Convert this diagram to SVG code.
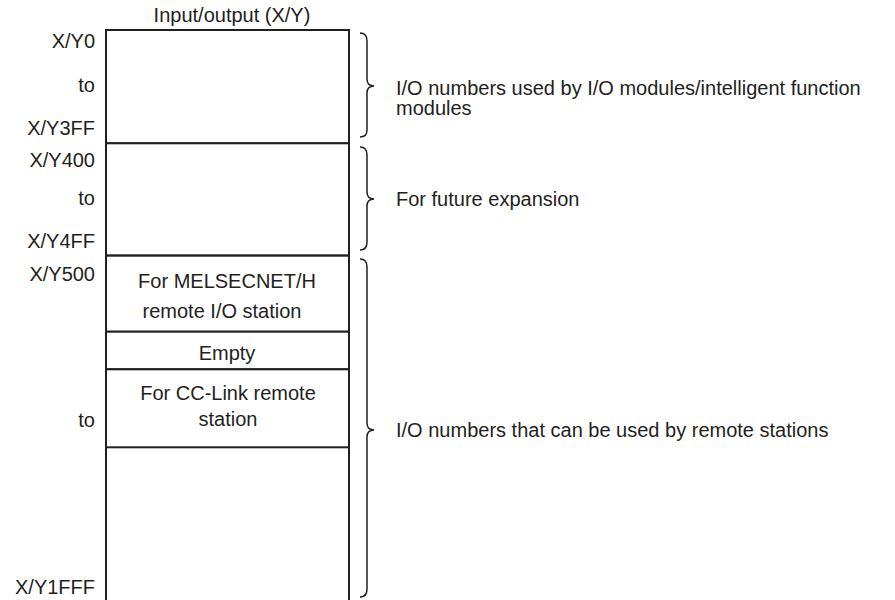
<svg xmlns="http://www.w3.org/2000/svg" width="895" height="600" viewBox="0 0 895 600">
<style>
  text { font-family: "Liberation Sans", Arial, sans-serif; font-size: 20px; fill: #231f20; }
  .r { text-anchor: end; }
  .m { text-anchor: middle; }
  .box { fill: #fff; stroke: #231f20; stroke-width: 2; }
  .brace { fill: none; stroke: #231f20; stroke-width: 1.5; }
</style>
<rect width="895" height="600" fill="#fff"/>
<text class="m" x="232" y="22">Input/output (X/Y)</text>

<g id="seg-io">
  <rect class="box" x="106" y="30" width="243" height="113.3"/>
  <text class="r" x="95" y="48">X/Y0</text>
  <text class="r" x="95" y="92">to</text>
  <text class="r" x="95" y="135">X/Y3FF</text>
</g>
<g id="seg-future">
  <rect class="box" x="106" y="143.3" width="243" height="112.4"/>
  <text class="r" x="95" y="167">X/Y400</text>
  <text class="r" x="95" y="205">to</text>
  <text class="r" x="95" y="248">X/Y4FF</text>
</g>
<g id="seg-remote">
  <rect class="box" x="106" y="255.7" width="243" height="350"/>
  <text class="r" x="95" y="281">X/Y500</text>
  <text class="r" x="95" y="427">to</text>
  <text class="r" x="95" y="594">X/Y1FFF</text>
</g>
<g id="seg-melsecnet">
  <rect class="box" x="106" y="255.7" width="243" height="76"/>
  <text class="m" x="227" y="288">For MELSECNET/H</text>
  <text class="m" x="222" y="318">remote I/O station</text>
</g>
<g id="seg-empty">
  <rect class="box" x="106" y="331.7" width="243" height="37.6"/>
  <text class="m" x="227" y="360">Empty</text>
</g>
<g id="seg-cclink">
  <rect class="box" x="106" y="369.3" width="243" height="78"/>
  <text class="m" x="228" y="400">For CC-Link remote</text>
  <text class="m" x="228" y="426">station</text>
</g>

<g id="connectors">
  <path class="brace" d="M360,33 Q367,33 367,41 L367,79 Q367,86 374,86 Q367,86 367,93 L367,130 Q367,137 360,137"/>
  <path class="brace" d="M360,147 Q367,147 367,155 L367,192 Q367,199 374,199 Q367,199 367,206 L367,242 Q367,250 360,250"/>
  <path class="brace" d="M360,259 Q367,259 367,267 L367,423 Q367,430 374,430 Q367,430 367,437 L367,589 Q367,597 360,597"/>
</g>

<g id="labels">
  <text x="396" y="95">I/O numbers used by I/O modules/intelligent function</text>
  <text x="396" y="115">modules</text>
  <text x="396" y="206">For future expansion</text>
  <text x="396" y="437">I/O numbers that can be used by remote stations</text>
</g>
</svg>
